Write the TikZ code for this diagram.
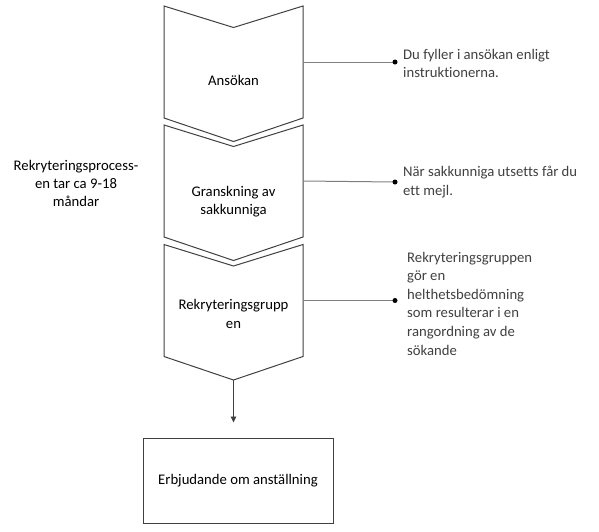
\documentclass[tikz,border=0pt]{standalone}
\usepackage{fontspec}
\setmainfont[Ligatures=NoCommon]{Carlito}
\usetikzlibrary{calc,arrows.meta}
\definecolor{edge}{HTML}{404040}
\definecolor{conn}{HTML}{7F7F7F}
\definecolor{txt}{HTML}{000000}
\definecolor{anno}{HTML}{404040}
\tikzset{
  chevbox/.style={minimum width=139pt,minimum height=112pt,inner sep=0pt,outer sep=0pt},
  chevline/.style={draw=edge,line width=1pt,line join=miter},
  steptext/.style={font=\fontsize{14.7}{18.3}\selectfont,text=txt,align=center,inner sep=0pt},
  annotext/.style={font=\fontsize{14.7}{18.6}\selectfont,text=anno,align=left,anchor=west,inner sep=0pt},
  connline/.style={draw=conn,line width=1pt},
  dotmark/.style={circle,fill=black,inner sep=0pt,minimum size=5pt},
}
\begin{document}
\begin{tikzpicture}[x=1pt,y=-1pt]
\useasboundingbox (0,0) rectangle (599,531);
% chevrons
\node[chevbox] (c1) at (233.5,62) {};
\node[chevbox] (c2) at (233.5,181) {};
\node[chevbox] (c3) at (233.5,300.5) {};
\foreach \c in {c1,c2,c3}{
  \draw[chevline] (\c.north west) -- ($(\c.north)+(0,21.5)$) -- (\c.north east)
     -- (\c.south east) -- ($(\c.south)+(0,23.5)$) -- (\c.south west) -- cycle;
}
\coordinate (c3tip) at ($(c3.south)+(0,23.5)$);
% step texts
\node[steptext] (t1) at (233.5,80) {Ansökan};
\node[steptext] (t2) at (233.5,201.5) {Granskning av\\sakkunniga};
\node[steptext] (t3) at (233.5,314) {Rekryteringsgrupp\\en};
% final box
\node[draw=edge,line width=1pt,minimum width=190pt,minimum height=85pt,inner sep=0pt,
      font=\fontsize{14.7}{18.3}\selectfont,text=txt] (box) at (238,480.5) {Erbjudande om anställning};
\draw[draw=edge,line width=0.9pt,-{Triangle[length=6pt,width=5.5pt]},shorten >=15pt] (c3tip) -- (c3tip |- box.north);
% connectors
\coordinate (d1) at (395,62);
\coordinate (d2) at (395,182);
\coordinate (d3) at (395,300.5);
\draw[connline] (c1.east) -- (d1);
\draw[connline] (c2.east) -- (d2);
\draw[connline] (c3.east) -- (d3);
\node[dotmark] (m1) at (d1) {};
\node[dotmark] (m2) at (d2) {};
\node[dotmark] (m3) at (d3) {};
\node[annotext] (a1) at (403,63.5) {Du fyller i ansökan enligt\\instruktionerna.};
\node[annotext] (a2) at (403,182) {När sakkunniga utsetts får du\\ett mejl.};
\node[annotext] (a3) at (407,303.5) {Rekryteringsgruppen\\gör en\\helthetsbedömning\\som resulterar i en\\rangordning av de\\sökande};
% left label
\node[steptext] (lab) at (76,183.5) {Rekryteringsprocess-\\en tar ca 9-18\\måndar};
\end{tikzpicture}
\end{document}
